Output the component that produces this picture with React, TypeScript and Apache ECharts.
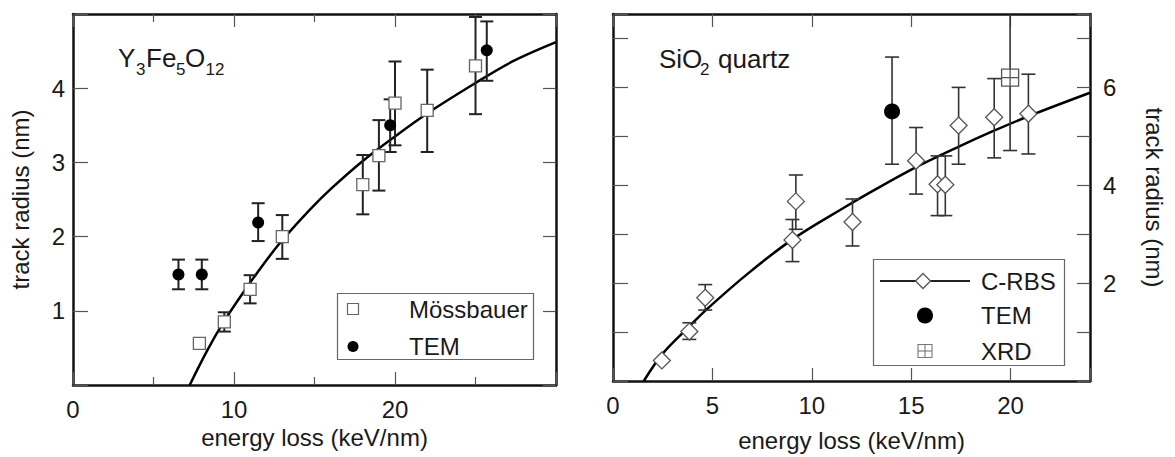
import React, { useEffect, useRef } from "react";
import * as echarts from "echarts";

// ---------- Left panel: Y3Fe5O12 ----------
const yigMossX = [7.85, 9.4, 11.0, 13.0, 18.0, 19.0, 20.0, 22.0, 25.0];
const yigMossY = [0.56, 0.85, 1.29, 2.0, 2.7, 3.09, 3.8, 3.7, 4.3];
const yigMossLo = [null, 0.72, 1.1, 1.7, 2.3, 2.62, 3.23, 3.14, 3.65];
const yigMossHi = [null, 0.98, 1.48, 2.29, 3.1, 3.57, 4.36, 4.25, 4.96];
const yigTemX = [6.55, 8.0, 11.5, 19.7, 25.7];
const yigTemY = [1.49, 1.49, 2.19, 3.5, 4.51];
const yigTemLo = [1.29, 1.29, 1.94, 3.14, 4.1];
const yigTemHi = [1.69, 1.69, 2.45, 3.85, 4.9];
const yigFitX = [7.25, 8.3, 9.3, 10.3, 11.4, 12.8, 14.7, 16.0, 18.0, 20.0, 22.0, 25.0, 27.3, 30.0];
const yigFitY = [0.0, 0.45, 0.83, 1.16, 1.5, 1.9, 2.36, 2.64, 3.02, 3.35, 3.66, 4.07, 4.36, 4.62];

// ---------- Right panel: SiO2 quartz ----------
const qCrbsX = [2.46, 3.84, 4.64, 9.03, 9.2, 12.05, 15.25, 16.33, 16.72, 17.39, 19.18, 20.9];
const qCrbsY = [0.42, 1.01, 1.7, 2.88, 3.67, 3.25, 4.5, 4.02, 4.01, 5.22, 5.39, 5.46];
const qCrbsLo = [null, 0.85, 1.45, 2.44, 3.1, 2.76, 3.82, 3.38, 3.38, 4.43, 4.56, 4.64];
const qCrbsHi = [null, 1.19, 1.97, 3.3, 4.21, 3.72, 5.18, 4.6, 4.6, 6.0, 6.18, 6.27];
const qTemX = [14.04];
const qTemY = [5.51];
const qTemLo = [4.43];
const qTemHi = [6.62];
const qXrdX = [19.98];
const qXrdY = [6.2];
const qXrdLo = [4.71];
const qXrdHi = [8.0];
const qFitX = [1.55, 2.5, 3.85, 4.7, 6.8, 9.05, 11.7, 13.05, 15.25, 17.4, 19.2, 20.9, 24.0];
const qFitY = [0.0, 0.56, 1.12, 1.46, 2.2, 2.9, 3.56, 3.88, 4.37, 4.79, 5.12, 5.41, 5.89];

const FONT = "'Liberation Sans', Arial, Helvetica, sans-serif";
const TXT = "#1a1a1a";

const zip = (a: number[], b: number[]) => a.map((v, i) => [v, b[i]]);
const zipErr = (x: number[], lo: (number | null)[], hi: (number | null)[]) =>
  x.map((v, i) => [v, lo[i], hi[i]]).filter((d) => d[1] != null && d[2] != null);

const errRender = (cap: number, color: string, width: number) => (params: any, api: any) => {
  const x = api.value(0);
  const lo = api.value(1);
  const hi = api.value(2);
  const p1 = api.coord([x, lo]);
  const p2 = api.coord([x, hi]);
  const style = { stroke: color, lineWidth: width };
  return {
    type: "group",
    children: [
      { type: "line", shape: { x1: p1[0], y1: p1[1], x2: p2[0], y2: p2[1] }, style },
      { type: "line", shape: { x1: p1[0] - cap / 2, y1: p1[1], x2: p1[0] + cap / 2, y2: p1[1] }, style },
      { type: "line", shape: { x1: p2[0] - cap / 2, y1: p2[1], x2: p2[0] + cap / 2, y2: p2[1] }, style },
    ],
  };
};

const frameLine = { onZero: false, lineStyle: { color: "#111", width: 2.5 } };
const tickStyle = { color: "#555", width: 1.2 };
const labelBase = { fontSize: 24, color: TXT, fontFamily: FONT };
const nameStyle = { fontSize: 24, color: TXT, fontFamily: FONT };

const txt = (x: number, y: number, text: string, size: number) => ({
  type: "text", x, y, z: 10,
  style: { text, fontSize: size, fontFamily: FONT, fill: TXT, verticalAlign: "middle" },
});

export default function App() {
  const ref = useRef<HTMLDivElement>(null);
  useEffect(() => {
    if (!ref.current) return;
    const chart = echarts.init(ref.current, null, { renderer: "svg" });
    const option: any = {
      animation: false,
      backgroundColor: "#fff",
      grid: [
        { left: 73, top: 14, width: 483, height: 371 },
        { left: 613, top: 14, width: 477, height: 371 },
      ],
      xAxis: [
        {
          gridIndex: 0, type: "value", position: "bottom", min: 0, max: 30, interval: 10,
          axisLine: frameLine,
          axisTick: { inside: true, length: 13, lineStyle: tickStyle },
          minorTick: { show: true, splitNumber: 2, length: 8, lineStyle: tickStyle },
          axisLabel: { ...labelBase, margin: 12, formatter: (v: number) => (v === 30 ? "" : String(v)) },
          splitLine: { show: false }, minorSplitLine: { show: false },
          name: "energy loss (keV/nm)", nameLocation: "middle", nameGap: 27, nameTextStyle: nameStyle,
        },
        {
          gridIndex: 0, type: "value", position: "top", min: 0, max: 30, interval: 10,
          axisLine: frameLine,
          axisTick: { inside: true, length: 13, lineStyle: tickStyle },
          minorTick: { show: true, splitNumber: 2, length: 8, lineStyle: tickStyle },
          axisLabel: { show: false }, splitLine: { show: false },
        },
        {
          gridIndex: 1, type: "value", position: "bottom", min: 0, max: 24, interval: 5,
          axisLine: frameLine,
          axisTick: { inside: true, length: 13, lineStyle: tickStyle },
          axisLabel: { ...labelBase, margin: 12, formatter: (v: number) => (v % 5 === 0 ? String(v) : "") },
          splitLine: { show: false },
          name: "energy loss (keV/nm)", nameLocation: "middle", nameGap: 47, nameTextStyle: nameStyle,
        },
        {
          gridIndex: 1, type: "value", position: "top", min: 0, max: 24, interval: 5,
          axisLine: frameLine,
          axisTick: { inside: true, length: 13, lineStyle: tickStyle },
          axisLabel: { show: false }, splitLine: { show: false },
        },
      ],
      yAxis: [
        {
          gridIndex: 0, type: "value", position: "left", min: 0, max: 5, interval: 1,
          axisLine: frameLine,
          axisTick: { inside: true, length: 15, lineStyle: tickStyle },
          axisLabel: { ...labelBase, margin: 8, formatter: (v: number) => (v === 0 || v === 5 ? "" : String(v)) },
          splitLine: { show: false },
          name: "track radius (nm)", nameLocation: "middle", nameGap: 41, nameTextStyle: nameStyle,
        },
        {
          gridIndex: 0, type: "value", position: "right", min: 0, max: 5, interval: 1,
          axisLine: frameLine,
          axisTick: { inside: true, length: 13, lineStyle: tickStyle },
          axisLabel: { show: false }, splitLine: { show: false },
        },
        {
          gridIndex: 1, type: "value", position: "left", min: 0, max: 7.5, interval: 1,
          axisLine: frameLine,
          axisTick: { inside: true, length: 15, lineStyle: tickStyle },
          axisLabel: { show: false }, splitLine: { show: false },
        },
        {
          gridIndex: 1, type: "value", position: "right", min: 0, max: 7.5, interval: 1,
          axisLine: frameLine,
          axisTick: { inside: true, length: 13, lineStyle: tickStyle },
          axisLabel: { ...labelBase, margin: 13, formatter: (v: number) => (v > 0 && v % 2 === 0 ? String(v) : "") },
          splitLine: { show: false },
          name: "track radius (nm)", nameLocation: "middle", nameGap: 52, nameRotate: -90, nameTextStyle: nameStyle,
        },
      ],
      series: [
        // left panel
        {
          name: "fit YIG", type: "line", xAxisIndex: 0, yAxisIndex: 0, data: zip(yigFitX, yigFitY),
          showSymbol: false, smooth: 0.35,
          lineStyle: { color: "#000", width: 2.5 }, z: 2, silent: true,
        },
        {
          name: "Mössbauer err", type: "custom", xAxisIndex: 0, yAxisIndex: 0,
          renderItem: errRender(13, "#222", 2), encode: { x: 0, y: [1, 2] },
          data: zipErr(yigMossX, yigMossLo, yigMossHi), z: 3,
        },
        {
          name: "TEM err", type: "custom", xAxisIndex: 0, yAxisIndex: 0,
          renderItem: errRender(13, "#222", 2), encode: { x: 0, y: [1, 2] },
          data: zipErr(yigTemX, yigTemLo, yigTemHi), z: 3,
        },
        {
          name: "Mössbauer", type: "scatter", xAxisIndex: 0, yAxisIndex: 0, data: zip(yigMossX, yigMossY),
          symbol: "rect", symbolSize: 12,
          itemStyle: { color: "#fff", borderColor: "#666", borderWidth: 1.3, opacity: 1 }, z: 4,
        },
        {
          name: "TEM", type: "scatter", xAxisIndex: 0, yAxisIndex: 0, data: zip(yigTemX, yigTemY),
          symbol: "circle", symbolSize: 12, itemStyle: { color: "#000", opacity: 1 }, z: 4,
        },
        // right panel
        {
          name: "fit quartz", type: "line", xAxisIndex: 2, yAxisIndex: 2, data: zip(qFitX, qFitY),
          showSymbol: false, smooth: 0.35,
          lineStyle: { color: "#000", width: 2.5 }, z: 2, silent: true,
        },
        {
          name: "C-RBS err", type: "custom", xAxisIndex: 2, yAxisIndex: 2,
          renderItem: errRender(14, "#333", 1.6), encode: { x: 0, y: [1, 2] },
          data: zipErr(qCrbsX, qCrbsLo, qCrbsHi), z: 3,
        },
        {
          name: "TEM q err", type: "custom", xAxisIndex: 2, yAxisIndex: 2,
          renderItem: errRender(14, "#333", 1.6), encode: { x: 0, y: [1, 2] },
          data: zipErr(qTemX, qTemLo, qTemHi), z: 3,
        },
        {
          name: "XRD err", type: "custom", xAxisIndex: 2, yAxisIndex: 2, clip: true,
          renderItem: errRender(14, "#333", 1.6), encode: { x: 0, y: [1, 2] },
          data: zipErr(qXrdX, qXrdLo, qXrdHi), z: 3,
        },
        {
          name: "C-RBS", type: "scatter", xAxisIndex: 2, yAxisIndex: 2, data: zip(qCrbsX, qCrbsY),
          symbol: "diamond", symbolSize: 17,
          itemStyle: { color: "#fff", borderColor: "#555", borderWidth: 1.3, opacity: 1 }, z: 4,
        },
        {
          name: "TEM q", type: "scatter", xAxisIndex: 2, yAxisIndex: 2, data: zip(qTemX, qTemY),
          symbol: "circle", symbolSize: 16, itemStyle: { color: "#000", opacity: 1 }, z: 4,
        },
        {
          name: "XRD", type: "scatter", xAxisIndex: 2, yAxisIndex: 2, data: zip(qXrdX, qXrdY),
          symbol: "path://M0 0H16V16H0Z M8 0V16 M0 8H16", symbolSize: 17,
          itemStyle: { color: "#fff", borderColor: "#555", borderWidth: 1.3, opacity: 1 }, z: 4,
        },
      ],
      graphic: [
        // panel titles (main text + subscripts)
        txt(118, 57.5, "Y", 26),
        txt(136, 69.5, "3", 17),
        txt(146, 57.5, "Fe", 26),
        txt(176, 69.5, "5", 17),
        txt(185, 57.5, "O", 26),
        txt(205.5, 69.5, "12", 17),
        txt(659, 58.5, "SiO", 26),
        txt(700, 69.5, "2", 17),
        txt(718, 58.5, "quartz", 26),
        // left legend
        {
          type: "group", z: 10,
          children: [
            { type: "rect", shape: { x: 337.5, y: 293.5, width: 196, height: 66 }, style: { fill: "#fff", stroke: "#666", lineWidth: 1.2 } },
            { type: "rect", shape: { x: 347.5, y: 303.5, width: 11, height: 11 }, style: { fill: "#fff", stroke: "#666", lineWidth: 1.2 } },
            { type: "text", x: 409, y: 309, style: { text: "Mössbauer", fontSize: 24, fontFamily: FONT, fill: TXT, verticalAlign: "middle" } },
            { type: "circle", shape: { cx: 353, cy: 346.5, r: 5.5 }, style: { fill: "#000" } },
            { type: "text", x: 409, y: 346.5, style: { text: "TEM", fontSize: 24, fontFamily: FONT, fill: TXT, verticalAlign: "middle" } },
          ],
        },
        // right legend
        {
          type: "group", z: 10,
          children: [
            { type: "rect", shape: { x: 873.5, y: 259.5, width: 191, height: 106 }, style: { fill: "#fff", stroke: "#666", lineWidth: 1.2 } },
            { type: "line", shape: { x1: 880, y1: 281, x2: 970, y2: 281 }, style: { stroke: "#222", lineWidth: 2 } },
            { type: "polygon", shape: { points: [[923, 273.5], [930.5, 281], [923, 288.5], [915.5, 281]] }, style: { fill: "#fff", stroke: "#555", lineWidth: 1.3 } },
            { type: "text", x: 981, y: 281, style: { text: "C-RBS", fontSize: 24, fontFamily: FONT, fill: TXT, verticalAlign: "middle" } },
            { type: "circle", shape: { cx: 925, cy: 315.5, r: 8 }, style: { fill: "#000" } },
            { type: "text", x: 981, y: 315.5, style: { text: "TEM", fontSize: 24, fontFamily: FONT, fill: TXT, verticalAlign: "middle" } },
            { type: "rect", shape: { x: 918, y: 344.5, width: 14, height: 13 }, style: { fill: "#fff", stroke: "#777", lineWidth: 1.1 } },
            { type: "line", shape: { x1: 925, y1: 344.5, x2: 925, y2: 357.5 }, style: { stroke: "#777", lineWidth: 1.1 } },
            { type: "line", shape: { x1: 918, y1: 351, x2: 932, y2: 351 }, style: { stroke: "#777", lineWidth: 1.1 } },
            { type: "text", x: 981, y: 351, style: { text: "XRD", fontSize: 24, fontFamily: FONT, fill: TXT, verticalAlign: "middle" } },
          ],
        },
      ],
    };
    chart.setOption(option);
    return () => chart.dispose();
  }, []);
  return (
    <div
      ref={ref}
      style={{ position: "absolute", left: 0, top: 0, width: 1175, height: 457, background: "#fff" }}
    />
  );
}
